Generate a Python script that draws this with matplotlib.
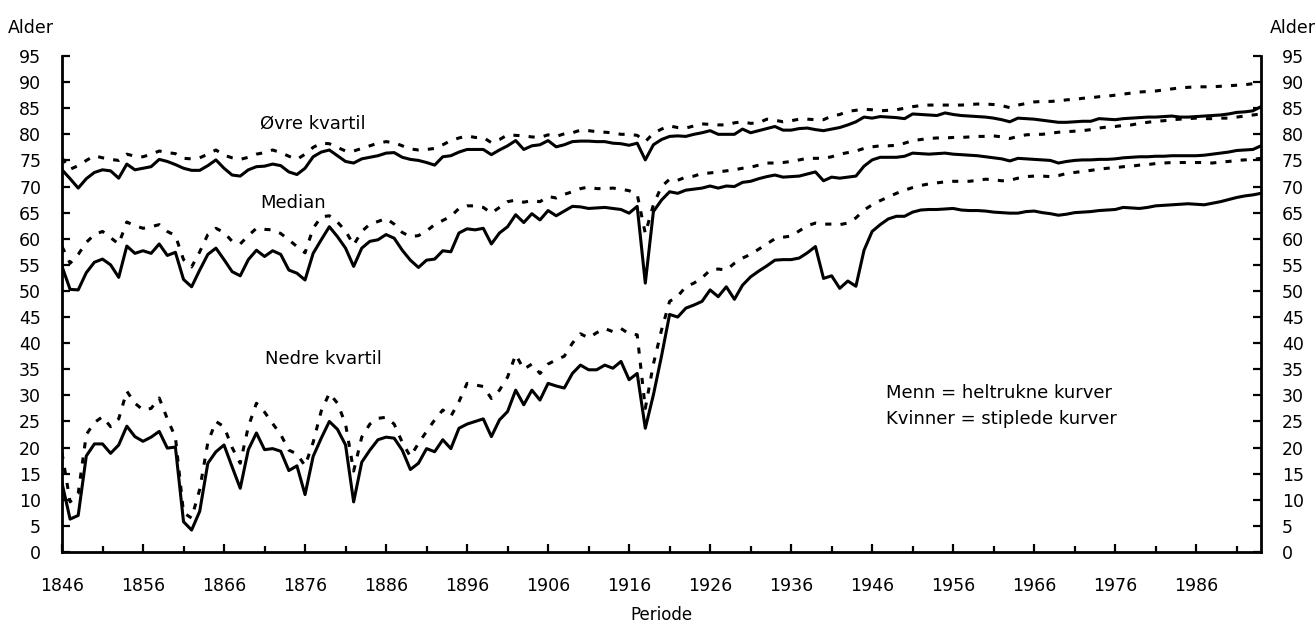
import matplotlib
matplotlib.use("Agg")
import matplotlib.pyplot as plt
from matplotlib.ticker import MultipleLocator
import numpy as np

plt.rcParams['font.family'] = ['DejaVu Sans']

# Data, one value per year 1846-1994

years = np.arange(1846, 1995)

# Menn (heltrukne kurver)
men_upper = [
    73.2, 71.5, 69.7, 71.5, 72.7, 73.2, 73.0, 71.6, 74.3, 73.2,  # 1846-1855
    73.5, 73.8, 75.2, 74.8, 74.2, 73.5, 73.1, 73.1, 74.0, 75.1,  # 1856-1865
    73.5, 72.2, 72.0, 73.2, 73.8, 73.9, 74.3, 74.0, 72.8, 72.3,  # 1866-1875
    73.5, 75.7, 76.6, 77.0, 75.9, 74.8, 74.5, 75.3, 75.6, 75.9,  # 1876-1885
    76.4, 76.5, 75.6, 75.2, 75.0, 74.6, 74.1, 75.7, 75.9, 76.6,  # 1886-1895
    77.1, 77.1, 77.1, 76.1, 77.0, 77.8, 78.8, 77.1, 77.8, 78.0,  # 1896-1905
    78.8, 77.6, 78.0, 78.6, 78.7, 78.7, 78.6, 78.6, 78.3, 78.2,  # 1906-1915
    77.9, 78.3, 75.1, 78.0, 79.0, 79.6, 79.7, 79.6, 80.0, 80.3,  # 1916-1925
    80.7, 80.0, 80.0, 80.0, 81.0, 80.3, 80.7, 81.1, 81.5, 80.8,  # 1926-1935
    80.8, 81.1, 81.2, 80.9, 80.7, 81.0, 81.3, 81.8, 82.4, 83.3,  # 1936-1945
    83.1, 83.4, 83.3, 83.2, 83.0, 83.9, 83.8, 83.7, 83.6, 84.1,  # 1946-1955
    83.8, 83.6, 83.5, 83.4, 83.3, 83.1, 82.8, 82.4, 83.1, 83.0,  # 1956-1965
    82.9, 82.7, 82.5, 82.3, 82.3, 82.4, 82.5, 82.5, 83.0, 82.9,  # 1966-1975
    82.8, 83.0, 83.1, 83.2, 83.3, 83.3, 83.4, 83.5, 83.3, 83.3,  # 1976-1985
    83.4, 83.5, 83.6, 83.7, 83.9, 84.2, 84.3, 84.5, 85.3,        # 1986-1994
]
men_median = [
    54.7, 50.3, 50.2, 53.5, 55.5, 56.1, 55.0, 52.6, 58.6, 57.2,
    57.7, 57.2, 59.0, 56.8, 57.4, 52.2, 50.8, 54.0, 57.0, 58.2,
    56.0, 53.7, 52.9, 56.0, 57.8, 56.6, 57.7, 57.0, 54.0, 53.4,
    52.1, 57.2, 59.8, 62.3, 60.4, 58.2, 54.7, 58.2, 59.5, 59.8,
    60.8, 60.1, 57.8, 55.9, 54.5, 55.9, 56.1, 57.7, 57.5, 61.1,
    61.9, 61.7, 62.0, 59.0, 61.1, 62.3, 64.6, 63.1, 64.8, 63.6,
    65.4, 64.4, 65.3, 66.2, 66.1, 65.8, 65.9, 66.0, 65.8, 65.6,
    64.9, 66.2, 51.5, 65.2, 67.4, 69.0, 68.7, 69.3, 69.5, 69.7,
    70.1, 69.7, 70.1, 70.0, 70.8, 71.0, 71.5, 71.9, 72.2, 71.8,
    71.9, 72.0, 72.4, 72.8, 71.1, 71.8, 71.6, 71.8, 72.0, 73.9,
    75.1, 75.6, 75.6, 75.6, 75.8, 76.4, 76.3, 76.2, 76.3, 76.4,
    76.2, 76.1, 76.0, 75.9, 75.7, 75.5, 75.3, 74.9, 75.4, 75.3,
    75.2, 75.1, 75.0, 74.5, 74.8, 75.0, 75.1, 75.1, 75.2, 75.2,
    75.3, 75.5, 75.6, 75.7, 75.7, 75.8, 75.8, 75.9, 75.9, 75.9,
    75.9, 76.0, 76.2, 76.4, 76.6, 76.9, 77.0, 77.1, 77.8,
]
men_lower = [
    13.2, 6.3, 7.0, 18.4, 20.7, 20.7, 18.9, 20.5, 24.1, 22.1,
    21.2, 22.0, 23.1, 19.9, 20.1, 5.8, 4.2, 7.8, 17.0, 19.2,
    20.5, 16.3, 12.2, 19.6, 22.8, 19.6, 19.8, 19.3, 15.6, 16.5,
    11.0, 18.3, 21.8, 25.0, 23.5, 20.5, 9.6, 17.2, 19.5, 21.5,
    22.0, 21.8, 19.5, 15.8, 17.0, 19.8, 19.2, 21.5, 19.8, 23.7,
    24.5, 25.0, 25.5, 22.1, 25.3, 26.9, 31.0, 28.2, 31.0, 29.1,
    32.3, 31.8, 31.4, 34.2, 35.8, 34.9, 34.9, 35.8, 35.2, 36.5,
    33.0, 34.2, 23.7, 30.1, 37.5, 45.5, 45.0, 46.7, 47.3, 48.0,
    50.2, 48.9, 50.8, 48.4, 51.1, 52.7, 53.8, 54.8, 55.9, 56.0,
    56.0, 56.3, 57.3, 58.5, 52.4, 52.9, 50.5, 51.9, 50.9, 57.8,
    61.4, 62.7, 63.8, 64.3, 64.3, 65.1, 65.5, 65.6, 65.6, 65.7,
    65.8, 65.5, 65.4, 65.4, 65.3, 65.1, 65.0, 64.9, 64.9, 65.2,
    65.3, 65.0, 64.8, 64.5, 64.7, 65.0, 65.1, 65.2, 65.4, 65.5,
    65.6, 66.0, 65.9, 65.8, 66.0, 66.3, 66.4, 66.5, 66.6, 66.7,
    66.6, 66.5, 66.8, 67.1, 67.5, 67.9, 68.2, 68.4, 68.7,
]

# Kvinner (stiplede kurver)
women_upper = [
    75.5, 73.3, 74.0, 75.0, 75.9, 75.5, 75.2, 75.0, 76.2, 75.8,
    75.7, 76.2, 76.8, 76.5, 76.3, 75.4, 75.3, 75.5, 76.2, 77.0,
    76.0, 75.5, 75.2, 75.6, 76.2, 76.5, 77.0, 76.5, 75.8, 75.2,
    76.2, 77.5, 78.3, 78.2, 77.5, 76.8, 76.8, 77.3, 77.8, 78.3,
    78.6, 78.4, 77.8, 77.2, 77.0, 77.1, 77.3, 78.0, 78.8, 79.3,
    79.7, 79.4, 79.4, 78.4, 79.0, 79.9, 79.8, 79.7, 79.5, 79.4,
    79.9, 79.6, 80.1, 80.3, 80.8, 80.7, 80.5, 80.4, 80.3, 80.0,
    80.0, 79.8, 78.6, 80.2, 81.0, 81.6, 81.3, 81.2, 81.6, 82.0,
    81.9, 81.8, 81.8, 82.2, 82.4, 82.1, 82.2, 82.9, 82.7, 82.4,
    82.6, 82.9, 82.9, 82.8, 82.8, 83.5, 83.8, 84.4, 84.6, 84.8,
    84.7, 84.5, 84.6, 84.7, 85.0, 85.3, 85.5, 85.6, 85.6, 85.6,
    85.6, 85.6, 85.7, 85.8, 85.8, 85.7, 85.5, 85.1, 85.6, 85.9,
    86.2, 86.3, 86.3, 86.4, 86.6, 86.7, 86.9, 87.0, 87.2, 87.3,
    87.5, 87.7, 87.9, 88.1, 88.2, 88.3, 88.5, 88.7, 88.9, 89.0,
    89.1, 89.1, 89.1, 89.2, 89.3, 89.4, 89.5, 89.7, 90.1,
]
women_median = [
    58.5, 55.3, 57.0, 59.3, 60.8, 61.4, 60.2, 59.0, 63.2, 62.5,
    62.0, 62.3, 62.7, 61.4, 60.6, 56.0, 54.6, 57.5, 60.8, 62.0,
    61.2, 59.5, 59.0, 60.6, 62.0, 61.8, 61.7, 61.0, 59.8, 58.5,
    57.3, 62.0, 64.2, 64.4, 63.2, 61.5, 58.8, 61.4, 62.8, 63.3,
    63.9, 62.8, 61.2, 60.4, 60.6, 61.5, 62.7, 63.5, 64.3, 65.8,
    66.3, 66.3, 66.0, 64.9, 66.0, 67.1, 67.4, 67.0, 67.3, 67.1,
    68.1, 67.8, 68.5, 69.0, 69.6, 69.9, 69.6, 69.6, 69.7, 69.5,
    69.2, 68.5, 61.0, 66.5, 70.0, 71.4, 71.2, 71.8, 72.0, 72.5,
    72.6, 72.8, 73.0, 73.2, 73.5, 73.7, 74.1, 74.5, 74.5, 74.6,
    74.8, 75.1, 75.4, 75.4, 75.4, 75.7, 76.2, 76.5, 76.8, 77.3,
    77.6, 77.8, 77.8, 77.9, 78.3, 78.8, 79.0, 79.2, 79.3, 79.3,
    79.4, 79.4, 79.5, 79.6, 79.6, 79.7, 79.5, 79.2, 79.6, 79.9,
    80.0, 80.0, 80.2, 80.4, 80.5, 80.6, 80.7, 80.9, 81.2, 81.4,
    81.5, 81.7, 81.8, 82.1, 82.3, 82.5, 82.6, 82.8, 82.9, 83.0,
    83.1, 83.0, 83.0, 83.1, 83.1, 83.3, 83.5, 83.7, 83.9,
]
women_lower = [
    19.0, 9.6, 11.2, 22.5, 24.8, 25.9, 24.0, 25.5, 30.8, 28.5,
    27.2, 27.5, 29.5, 25.5, 22.0, 7.5, 6.5, 12.0, 21.0, 25.0,
    24.0, 20.0, 17.0, 24.0, 28.5, 26.8, 24.6, 22.5, 19.5, 18.8,
    16.5, 21.0, 27.0, 30.4, 28.5, 24.5, 15.5, 22.0, 24.5, 25.6,
    25.8, 24.5, 21.0, 18.3, 20.8, 23.1, 25.3, 27.2, 26.0, 28.8,
    32.3, 32.0, 31.7, 29.4, 31.0, 33.5, 37.8, 35.0, 36.0, 34.2,
    36.0, 36.8, 37.5, 40.0, 41.8, 41.0, 42.0, 42.8, 42.2, 42.8,
    41.8, 41.6, 27.5, 36.0, 42.5, 48.0, 49.0, 50.8, 51.5, 52.5,
    54.0, 54.2, 54.0, 55.3, 56.3, 57.0, 58.0, 59.0, 60.0, 60.3,
    60.5, 61.5, 62.5, 63.0, 62.8, 62.8, 62.7, 63.0, 64.0, 65.5,
    66.5, 67.3, 68.0, 68.7, 69.3, 69.8, 70.2, 70.5, 70.7, 70.9,
    71.0, 71.0, 71.0, 71.2, 71.4, 71.3, 71.1, 71.2, 71.6, 71.9,
    72.0, 72.0, 71.9, 72.1, 72.5, 72.7, 72.9, 73.1, 73.3, 73.5,
    73.6, 73.8, 73.9, 74.1, 74.2, 74.4, 74.5, 74.6, 74.6, 74.6,
    74.6, 74.6, 74.5, 74.7, 74.8, 75.0, 75.1, 75.2, 75.4,
]

for s in (men_upper, men_median, men_lower, women_upper, women_median, women_lower):
    assert len(s) == len(years), len(s)

fig = plt.figure(figsize=(13.16, 6.36), dpi=100)
ax = fig.add_axes([62 / 1316, 84 / 636, 1199 / 1316, 496 / 636])

for vals in (men_upper, men_median, men_lower):
    ax.plot(years, vals, color='black', lw=2.2, solid_joinstyle='round')
for vals in (women_upper, women_median, women_lower):
    ax.plot(years, vals, color='black', lw=2.2, linestyle=(0, (2.0, 3.0)))

ax.set_xlim(1846, 1994)
ax.set_ylim(0, 95)

# axes look
ax.spines['top'].set_visible(False)
for side in ('left', 'right', 'bottom'):
    ax.spines[side].set_linewidth(2.0)

ax.yaxis.set_major_locator(MultipleLocator(5))
ax.set_xticks(np.arange(1846, 1995, 10))
ax.set_xticks(np.arange(1851, 1995, 10), minor=True)
ax.tick_params(axis='y', which='both', direction='in', length=6, width=1.6,
               left=True, right=True, labelleft=True, labelright=True,
               labelsize=12.5, pad=15)
ax.tick_params(axis='x', which='major', direction='in', length=6, width=1.6,
               labelsize=12.5, pad=18)
ax.tick_params(axis='x', which='minor', direction='in', length=4, width=1.6)

# curve labels
txt = dict(fontsize=13, va='baseline', ha='left')
ax.text(1870.5, 81.0, 'Øvre kvartil', **txt)
ax.text(1870.5, 65.9, 'Median', **txt)
ax.text(1871.1, 36.0, 'Nedre kvartil', **txt)
ax.text(1947.7, 29.5, 'Menn = heltrukne kurver', **txt)
ax.text(1947.7, 24.5, 'Kvinner = stiplede kurver', **txt)

fig.text(8 / 1316, 1 - 33 / 636, 'Alder', fontsize=12.5, ha='left', va='baseline')
fig.text(1.0, 1 - 33 / 636, 'Alder', fontsize=12.5, ha='right', va='baseline')
fig.text(661 / 1316, 16 / 636, 'Periode', fontsize=12, ha='center', va='baseline')

fig.savefig('out.png', dpi=100)
